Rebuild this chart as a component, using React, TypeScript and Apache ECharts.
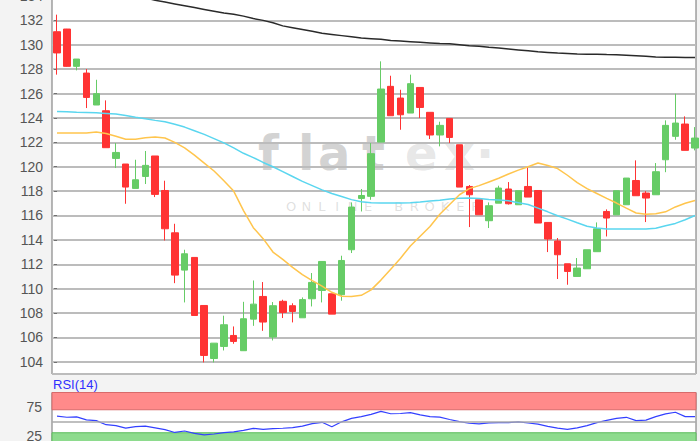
import React, { useEffect, useRef } from "react";
import * as echarts from "echarts";

// Candles (index order, left to right)
const opens = [131.07,131.29,128.23,127.68,125.06,124.59,120.68,120.22,118.22,119.2,120.88,118.05,114.58,111.52,112.56,108.62,104.27,105.26,106.16,104.91,107.5,109.36,106.03,108.96,108.6,107.61,109.17,109.85,109.58,109.5,113.19,117.4,117.57,122.02,126.59,125.63,124.4,126.5,124.46,122.6,123.96,121.8,118.38,117.29,115.57,117.01,118.17,116.88,118.38,118.05,115.43,113.91,112.04,111.0,111.63,113.03,116.33,116.05,116.88,118.87,117.84,117.7,120.57,122.49,123.5,121.53];
const closes = [129.33,128.23,128.83,125.68,125.99,121.56,121.17,118.33,118.93,120.11,117.73,114.91,111.11,112.86,107.8,104.52,105.53,107.04,105.67,107.53,108.73,107.26,108.6,108.05,108.13,109.1,110.51,112.23,107.91,112.31,116.69,117.64,121.07,126.37,124.18,124.26,126.81,124.86,122.6,123.39,122.4,118.33,117.7,116.06,116.8,118.25,116.96,118.03,117.51,115.38,114.07,112.78,111.41,111.69,113.19,114.91,115.79,118.03,119.07,117.62,117.43,119.59,123.39,123.58,121.34,122.35];
const lows = [127.55,128.2,127.9,124.81,125.06,121.56,119.89,116.96,118.22,118.58,117.51,113.95,110.45,108.87,107.8,103.95,103.95,104.93,105.48,104.91,106.95,106.54,105.75,107.59,107.23,107.61,108.54,108.87,107.91,109.01,112.92,116.33,117.29,122.02,124.18,123.03,124.4,123.99,122.27,121.67,121.94,118.33,115.05,116.06,114.97,117.01,116.9,116.88,117.51,115.38,113.0,110.79,110.32,111.0,111.63,113.03,114.28,116.05,116.88,117.62,115.46,117.7,119.55,122.21,121.34,121.34];
const highs = [132.47,131.3,128.83,128.01,127.13,125.44,121.94,120.22,120.57,121.29,120.88,118.85,115.32,113.19,112.56,108.62,105.53,107.78,106.9,108.92,110.67,110.54,108.9,109.09,108.8,109.28,111.28,112.23,109.58,112.7,117.07,118.17,121.94,128.64,127.46,126.31,127.55,126.5,124.46,123.69,123.96,121.8,118.5,117.29,117.07,118.44,118.74,118.03,119.94,118.05,115.43,114.15,112.04,112.51,113.19,115.43,116.5,118.03,119.07,120.52,118.0,120.3,123.8,125.99,124.13,123.25];

// Moving averages
const maBlack = [136.5,136.2,135.9,135.6,135.3,135.0,134.7,134.4,134.1,133.85,133.65,133.5,133.35,133.2,133.05,132.9,132.75,132.6,132.5,132.35,132.15,132.0,131.8,131.55,131.4,131.25,131.1,130.95,130.85,130.75,130.65,130.55,130.5,130.45,130.35,130.3,130.25,130.2,130.15,130.1,130.08,130.0,129.92,129.87,129.8,129.74,129.66,129.58,129.5,129.42,129.37,129.32,129.28,129.24,129.23,129.22,129.2,129.19,129.15,129.1,129.05,129.0,128.98,128.97,128.96,128.96];
const maCyan = [124.52,124.5,124.47,124.45,124.42,124.37,124.32,124.2,124.05,123.93,123.8,123.68,123.48,123.25,122.95,122.65,122.3,121.95,121.55,121.1,120.75,120.35,120.0,119.6,119.2,118.8,118.45,118.1,117.8,117.55,117.3,117.12,117.05,117.02,117.02,117.02,117.05,117.1,117.18,117.25,117.35,117.42,117.43,117.4,117.32,117.27,117.2,117.05,116.9,116.6,116.3,115.98,115.7,115.4,115.12,114.97,114.9,114.89,114.89,114.89,114.9,114.95,115.15,115.35,115.65,116.0];
const maOrange = [122.76,122.76,122.76,122.76,122.84,122.72,122.5,122.25,122.25,122.38,122.43,122.35,122.0,121.55,120.95,120.3,119.65,118.85,118.0,116.4,115.0,114.1,113.0,112.4,111.75,111.15,110.65,110.2,109.7,109.38,109.35,109.45,109.9,110.7,111.6,112.5,113.5,114.3,115.1,116.1,116.9,117.7,118.2,118.45,118.75,119.05,119.4,119.72,120.0,120.3,120.1,119.85,119.3,118.7,118.2,117.8,117.4,117.02,116.6,116.2,116.1,116.15,116.3,116.7,117.0,117.23];

// RSI(14)
const rsi = [59,57,57.5,52.5,51,44,42.5,38,40.5,41.5,38.5,35.5,30.5,33,29,26.2,27.8,30.2,31.5,34,37.7,36,37.2,37.8,38.8,41.5,46,48.2,40.5,49,55,58,62,67.3,63,63.5,64.9,61,58,57.2,53,49.2,46.5,45.3,47.3,47.5,47.5,48.8,47,45,41,38,36,38.5,42.5,47.5,51.5,55.1,56.9,51,52,58,62.8,65.6,58,57.9];
const rsiLabels = [25, 75];
const rsiUpper = 70;
const rsiLower = 30;

const watermarkLetters = ["f", "l", "a", "t", "e", "x", "·"];
const watermarkSub = "ONLINE BROKER";

export default function App() {
  const ref = useRef<HTMLDivElement>(null);
  useEffect(() => {
    if (!ref.current) return;
    const chart = echarts.init(ref.current, null, { renderer: "svg" });
    const labelFont = 'Arial, "Liberation Sans", sans-serif';
    const letterX = [258, 298, 318, 362, 405, 444, 476];
    const wmEls: any[] = watermarkLetters.map((ch, i) => ({
      type: "text",
      z: 0,
      silent: true,
      style: {
        text: ch,
        x: letterX[i],
        y: 129,
        font: 'bold 48px "DejaVu Sans", sans-serif',
        fill: i < 4 ? "rgba(140,140,140,0.38)" : "rgba(150,150,150,0.24)",
        textVerticalAlign: "top",
      },
    }));
    const subEls: any[] = watermarkSub.split("").map((ch, i) => ({
      type: "text",
      z: 0,
      silent: true,
      style: {
        text: ch,
        x: 291 + i * 15.4,
        y: 206,
        font: '13px "DejaVu Sans", sans-serif',
        fill: "rgba(150,150,150,0.3)",
        textAlign: "center",
        textVerticalAlign: "middle",
      },
    }));

    const option: any = {
      animation: false,
      backgroundColor: "#f3f3f3",
      grid: [
        { left: 52, right: 4, top: -4, bottom: 67, outerBoundsMode: "none", containLabel: false, show: true, backgroundColor: "#fff", borderColor: "#707070", borderWidth: 1 },
        { left: 52, right: 4, top: 392.5, height: 57.5, outerBoundsMode: "none", containLabel: false, show: true, backgroundColor: "#fff", borderColor: "#707070", borderWidth: 1 },
      ],
      xAxis: [
        { type: "value", gridIndex: 0, min: -0.51, max: 65.1, show: false },
        { type: "value", gridIndex: 1, min: -0.51, max: 65.1, show: false },
      ],
      yAxis: [
        {
          type: "value", gridIndex: 0, min: 103, max: 134, splitNumber: 15,
          axisLine: { show: false },
          axisTick: { show: true, length: 3, lineStyle: { color: "#707070" } },
          axisLabel: { showMinLabel: false, color: "#555", fontSize: 14, fontFamily: labelFont, margin: 9 },
          splitLine: { show: true, lineStyle: { color: "#bcbcbc", width: 2 } },
        },
        {
          type: "value", gridIndex: 1, min: 0, max: 100, interval: 25,
          axisLine: { show: false },
          axisTick: { show: false },
          axisLabel: {
            color: "#555", fontSize: 14, fontFamily: labelFont, margin: 10,
            formatter: (v: number) => (rsiLabels.indexOf(v) >= 0 ? String(v) : ""),
          },
          splitLine: { show: false },
        },
      ],
      graphic: [
        ...wmEls,
        ...subEls,
        {
          type: "text",
          left: 53,
          top: 378,
          silent: true,
          style: { text: "RSI(14)", font: '13px Arial, "Liberation Sans", sans-serif', fill: "#2f2fff" },
        },
      ],
      series: [
        {
          type: "candlestick",
          xAxisIndex: 0, yAxisIndex: 0,
          barWidth: 7,
          encode: { x: 0, y: [1, 2, 3, 4] },
          data: opens.map((o, i) => [i, o, closes[i], lows[i], highs[i]]),
          itemStyle: {
            color: "#66cc66", color0: "#ff3333",
            borderColor: "#66cc66", borderColor0: "#ff3333", borderWidth: 1,
          },
        },
        {
          type: "line", xAxisIndex: 0, yAxisIndex: 0, showSymbol: false, symbol: "none",
          data: maBlack.map((v, i) => [i, v]),
          lineStyle: { color: "#2a2a2a", width: 1.5 },
        },
        {
          type: "line", xAxisIndex: 0, yAxisIndex: 0, showSymbol: false, symbol: "none",
          data: maCyan.map((v, i) => [i, v]),
          lineStyle: { color: "#5ad6ef", width: 1.5 },
        },
        {
          type: "line", xAxisIndex: 0, yAxisIndex: 0, showSymbol: false, symbol: "none",
          data: maOrange.map((v, i) => [i, v]),
          lineStyle: { color: "#ffc54d", width: 1.5 },
        },
        {
          type: "line", xAxisIndex: 1, yAxisIndex: 1, showSymbol: false, symbol: "none",
          data: rsi.map((v, i) => [i, v]),
          lineStyle: { color: "#3340ff", width: 1.2 },
          markArea: {
            silent: true,
            data: [
              [{ yAxis: rsiUpper, itemStyle: { color: "#ff8a8a", borderColor: "#d86a6a", borderWidth: 1 } }, { yAxis: 100 }],
              [{ yAxis: 0, itemStyle: { color: "#8edb8e", borderColor: "#5cbc5c", borderWidth: 1 } }, { yAxis: rsiLower }],
            ],
          },
          markLine: {
            silent: true, symbol: "none", label: { show: false },
            lineStyle: { color: "#aaaaaa", width: 1.5, type: "solid" },
            data: [{ yAxis: 50 }],
          },
        },
      ],
    };
    chart.setOption(option);
    return () => chart.dispose();
  }, []);
  return <div ref={ref} style={{ position: "fixed", left: 0, top: 0, width: 700, height: 441 }} />;
}
